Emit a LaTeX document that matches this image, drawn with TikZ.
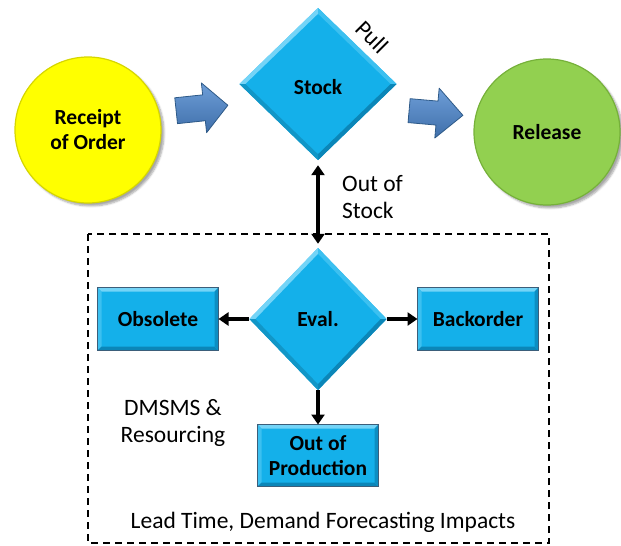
\documentclass[tikz,border=0pt]{standalone}
\usepackage{fontspec}
\setmainfont{Carlito}
\usetikzlibrary{shapes.geometric,arrows.meta,calc,shadows.blur}

\definecolor{cyanfill}{HTML}{14B0EA}
\definecolor{cyanlight}{HTML}{74D4F7}
\definecolor{cyanmid}{HTML}{3CC0F0}
\definecolor{cyandark}{HTML}{0B86B8}
\definecolor{boxedge}{HTML}{3B5E7A}
\definecolor{sunyellow}{HTML}{FFFF00}
\definecolor{yellowrim}{HTML}{D6D600}
\definecolor{leafgreen}{HTML}{92D050}
\definecolor{greenrim}{HTML}{76B13A}
\definecolor{arrowtop}{HTML}{6E9ED8}
\definecolor{arrowbot}{HTML}{3F6FAA}
\definecolor{arrowedge}{HTML}{2E5A88}

\begin{document}
\begin{tikzpicture}[x=1pt,y=-1pt,
  bubble/.style={circle, minimum size=146pt, inner sep=0pt, line width=1.2pt,
    align=center, font=\bfseries\fontsize{21.5}{25}\selectfont,
    blur shadow={shadow xshift=3pt, shadow yshift=-3pt, shadow blur steps=6, shadow opacity=35}},
  dia/.style={diamond, minimum width=157pt, minimum height=152pt, inner sep=0pt,
    fill=cyanfill},
  boldlabel/.style={font=\bfseries\fontsize{21.5}{25}\selectfont},
  stepbox/.style={rectangle, minimum width=120pt, minimum height=62pt, inner sep=0pt,
    fill=cyanfill, draw=boxedge, line width=1pt, align=center,
    font=\bfseries\fontsize{21.5}{25}\selectfont},
  link/.style={line width=4pt, -{Triangle[length=10pt,width=13pt]}},
  twoway/.style={line width=4pt, {Triangle[length=10pt,width=13pt]}-{Triangle[length=10pt,width=13pt]}},
  note/.style={font=\fontsize{23.5}{27.5}\selectfont, align=left, inner sep=0pt},
  blockarrow/.style={top color=arrowtop, bottom color=arrowbot, draw=arrowedge, line width=0.8pt, line join=round},
  frame/.style={line width=1.4pt, dash pattern=on 7pt off 5pt}
]
\useasboundingbox (0,0) rectangle (621,546);

% dashed frame around the evaluation block
\draw[frame] (88,234) rectangle (549,543);

% main flow
\node[bubble, fill=sunyellow, draw=yellowrim] (order) at (88,130) {Receipt\\of Order};
\node[bubble, fill=leafgreen, draw=greenrim] (release) at (547,132) {Release};
\node[dia] (stock) at (318,84) {};
\node[dia, minimum width=137pt, minimum height=142pt] (eval) at (318,319) {};

% bevel rims on the diamonds
\foreach \n in {stock,eval} {
  \coordinate (ni) at ($(\n.north)!6pt!(\n.south)$);
  \coordinate (si) at ($(\n.south)!6pt!(\n.north)$);
  \coordinate (wi) at ($(\n.west)!6pt!(\n.east)$);
  \coordinate (ei) at ($(\n.east)!6pt!(\n.west)$);
  \fill[cyanlight] (\n.west) -- (\n.north) -- (ni) -- (wi) -- cycle;
  \fill[cyanmid] (\n.north) -- (\n.east) -- (ei) -- (ni) -- cycle;
  \fill[cyandark] (\n.east) -- (\n.south) -- (si) -- (ei) -- cycle;
  \fill[cyanfill!85!black] (\n.south) -- (\n.west) -- (wi) -- (si) -- cycle;
}
\node[boldlabel] (stocktext) at ([yshift=-3pt]stock.center) {Stock};
\node[boldlabel] (evaltext) at (eval.center) {Eval.};

% outcome boxes
\node[stepbox] (obsolete) at (158,319) {Obsolete};
\node[stepbox] (backorder) at (478,319) {Backorder};
\node[stepbox, minimum height=61pt] (outprod) at (318,455.5) {Out of\\Production};

\foreach \n in {obsolete,backorder,outprod} {
  \fill[cyanlight] (\n.north west) -- (\n.north east) -- ($(\n.north east)+(-4,4)$)
     -- ($(\n.north west)+(4,4)$) -- cycle;
  \fill[cyanmid] (\n.north west) -- ($(\n.north west)+(4,4)$) -- ($(\n.south west)+(4,-4)$)
     -- (\n.south west) -- cycle;
  \fill[cyandark] (\n.south west) -- (\n.south east) -- ($(\n.south east)+(-4,-4)$)
     -- ($(\n.south west)+(4,-4)$) -- cycle;
  \fill[cyandark!80!cyanfill] (\n.north east) -- (\n.south east) -- ($(\n.south east)+(-4,-4)$)
     -- ($(\n.north east)+(-4,4)$) -- cycle;
  \draw[boxedge, line width=1pt] (\n.north west) rectangle (\n.south east);
}

% block arrows of the main flow
\coordinate (inflow) at (202,108);
\coordinate (outflow) at (436,113);
\begin{scope}[shift={(inflow)}, rotate=6]
  \draw[blockarrow] (-26,-13) -- (2,-13) -- (2,-25) -- (26,0) -- (2,25) -- (2,13) -- (-26,13) -- cycle;
\end{scope}
\begin{scope}[shift={(outflow)}, rotate=-5]
  \draw[blockarrow] (-27,-12) -- (1,-12) -- (1,-25) -- (27,0) -- (1,25) -- (1,12) -- (-27,12) -- cycle;
\end{scope}

% connectors
\draw[twoway, shorten <=5pt, shorten >=4pt] (stock.south) -- (eval.north);
\draw[link] (eval.west) -- (obsolete.east);
\draw[link] (eval.east) -- (backorder.west);
\draw[link] (eval.south) -- (outprod.north);

% labels
\node[note, rotate=-45] (pull) at (372,37) {Pull};
\node[note, anchor=west] (oos) at (342,197) {Out of\\Stock};
\node[note, align=center] (dmsms) at (173,423) {DMSMS \&\\Resourcing};
\node[note] (lead) at (323,522) {Lead Time, Demand Forecasting Impacts};
\end{tikzpicture}
\end{document}
